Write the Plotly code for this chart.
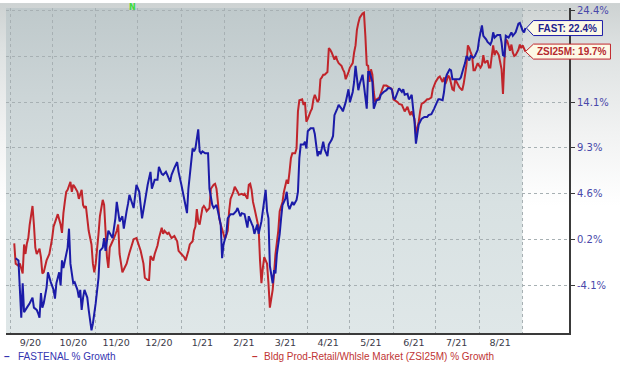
import base64
import math
from datetime import datetime
import plotly.graph_objects as go

# ---------------- data ----------------
fast_dates = [
    "2020-09-05", "2020-09-07", "2020-09-09", "2020-09-10", "2020-09-11", "2020-09-13", "2020-09-15", "2020-09-17",
    "2020-09-18", "2020-09-20", "2020-09-21", "2020-09-22", "2020-09-23", "2020-09-24", "2020-09-25", "2020-09-27",
    "2020-09-28", "2020-09-30", "2020-10-02", "2020-10-03", "2020-10-04", "2020-10-06", "2020-10-07", "2020-10-08",
    "2020-10-09", "2020-10-12", "2020-10-13", "2020-10-14", "2020-10-16", "2020-10-17", "2020-10-19", "2020-10-20",
    "2020-10-21", "2020-10-22", "2020-10-23", "2020-10-24", "2020-10-26", "2020-10-27", "2020-10-29", "2020-10-30",
    "2020-11-01", "2020-11-03", "2020-11-04", "2020-11-06", "2020-11-07", "2020-11-08", "2020-11-10", "2020-11-13",
    "2020-11-15", "2020-11-16", "2020-11-18", "2020-11-20", "2020-11-21", "2020-11-23", "2020-11-24", "2020-11-25",
    "2020-11-28", "2020-11-30", "2020-12-02", "2020-12-04", "2020-12-06", "2020-12-08", "2020-12-10", "2020-12-11",
    "2020-12-13", "2020-12-15", "2020-12-16", "2020-12-18", "2020-12-19", "2020-12-21", "2020-12-22", "2020-12-24",
    "2020-12-25", "2020-12-27", "2020-12-29", "2020-12-30", "2021-01-01", "2021-01-02", "2021-01-05", "2021-01-06",
    "2021-01-09", "2021-01-10", "2021-01-11", "2021-01-13", "2021-01-14", "2021-01-15", "2021-01-16", "2021-01-18",
    "2021-01-20", "2021-01-21", "2021-01-23", "2021-01-24", "2021-01-26", "2021-01-27", "2021-01-29", "2021-01-30",
    "2021-01-31", "2021-02-02", "2021-02-03", "2021-02-05", "2021-02-07", "2021-02-09", "2021-02-10", "2021-02-12",
    "2021-02-13", "2021-02-15", "2021-02-17", "2021-02-18", "2021-02-20", "2021-02-21", "2021-02-22", "2021-02-24",
    "2021-02-25", "2021-02-27", "2021-03-02", "2021-03-03", "2021-03-04", "2021-03-05", "2021-03-07", "2021-03-08",
    "2021-03-09", "2021-03-10", "2021-03-12", "2021-03-13", "2021-03-14", "2021-03-16", "2021-03-17", "2021-03-18",
    "2021-03-19", "2021-03-21", "2021-03-22", "2021-03-24", "2021-03-25", "2021-03-26", "2021-03-27", "2021-03-29",
    "2021-03-30", "2021-03-31", "2021-04-01", "2021-04-03", "2021-04-05", "2021-04-06", "2021-04-08", "2021-04-09",
    "2021-04-10", "2021-04-11", "2021-04-12", "2021-04-13", "2021-04-15", "2021-04-16", "2021-04-18", "2021-04-19",
    "2021-04-20", "2021-04-22", "2021-04-23", "2021-04-25", "2021-04-26", "2021-04-28", "2021-04-30", "2021-05-01",
    "2021-05-03", "2021-05-04", "2021-05-05", "2021-05-07", "2021-05-08", "2021-05-10", "2021-05-11", "2021-05-13",
    "2021-05-14", "2021-05-15", "2021-05-17", "2021-05-18", "2021-05-20", "2021-05-22", "2021-05-23", "2021-05-25",
    "2021-05-27", "2021-05-28", "2021-05-30", "2021-05-31", "2021-06-01", "2021-06-02", "2021-06-04", "2021-06-05",
    "2021-06-06", "2021-06-07", "2021-06-08", "2021-06-09", "2021-06-11", "2021-06-12", "2021-06-13", "2021-06-14",
    "2021-06-15", "2021-06-16", "2021-06-17", "2021-06-18", "2021-06-19", "2021-06-21", "2021-06-23", "2021-06-25",
    "2021-06-26", "2021-06-28", "2021-06-30", "2021-07-02", "2021-07-03", "2021-07-04", "2021-07-06", "2021-07-07",
    "2021-07-08", "2021-07-09", "2021-07-11", "2021-07-12", "2021-07-13", "2021-07-16", "2021-07-18", "2021-07-19",
    "2021-07-21", "2021-07-22", "2021-07-23", "2021-07-24", "2021-07-25", "2021-07-26", "2021-07-28", "2021-07-29",
    "2021-07-31", "2021-08-01", "2021-08-02", "2021-08-03", "2021-08-04", "2021-08-05", "2021-08-06", "2021-08-07",
    "2021-08-09", "2021-08-10", "2021-08-11", "2021-08-12", "2021-08-14", "2021-08-16", "2021-08-17", "2021-08-18",
    "2021-08-19", "2021-08-20", "2021-08-22", "2021-08-23", "2021-08-24", "2021-08-25", "2021-08-27", "2021-08-28",
    "2021-08-29", "2021-08-30", "2021-09-01", "2021-09-02", "2021-09-03",
]
fast_growth = [
    -1.6, -1.8, -7.0, -3.9, -6.5, -6.1, -5.7, -5.2,
    -6.1, -6.3, -6.6, -7.0, -4.8, -6.1, -5.7, -4.3,
    -2.9, -3.8, -4.5, -5.3, -3.9, -2.9, -4.1, -1.8,
    -2.5, -0.6, 1.2, -2.1, -3.9, -3.8, -4.5, -5.2,
    -4.5, -6.3, -5.2, -4.5, -5.2, -6.3, -8.1, -7.5,
    -5.7, -3.4, -0.9, -0.6, 0.3, -0.9, 1.0, 0.3,
    2.2, 3.8, 1.9, 2.4, 1.2, 2.9, 3.6, 4.5,
    3.2, 5.5, 4.8, 2.2, 3.8, 5.5, 6.8, 5.1,
    6.0, 6.0, 7.3, 6.6, 6.5, 6.8, 6.5, 5.8,
    6.5, 7.2, 7.8, 6.8, 5.5, 4.8, 2.7, 5.1,
    9.2, 8.9, 9.2, 11.2, 8.9, 8.7, 8.9, 8.7,
    8.7, 5.1, 3.5, 3.2, 3.5, 2.9, 1.6, -1.6,
    -0.3, 0.7, 2.2, 2.6, 2.6, 2.9, 3.2, 2.4,
    2.7, 2.6, 1.3, 2.4, 1.7, 1.4, 0.7, 1.6,
    0.7, 1.9, 5.0, 2.9, 2.2, -2.3, -3.9, -2.7,
    -3.0, -1.2, 0.7, 2.2, 3.5, 4.1, 4.8, 3.5,
    3.1, 3.8, 3.5, 4.0, 4.8, 8.2, 9.6, 9.6,
    9.9, 9.2, 11.0, 11.3, 11.3, 10.7, 8.4, 8.9,
    8.6, 9.2, 9.9, 9.1, 8.4, 9.6, 10.1, 10.5,
    12.7, 13.4, 13.8, 13.4, 13.1, 14.1, 15.5, 14.1,
    15.2, 16.3, 18.1, 15.4, 16.1, 17.1, 15.9, 13.4,
    17.4, 17.4, 16.3, 13.4, 14.3, 14.4, 14.9, 15.2,
    15.4, 15.6, 15.6, 15.4, 14.6, 14.4, 15.2, 15.6,
    15.4, 15.2, 15.5, 14.9, 15.0, 14.4, 14.6, 14.9,
    13.4, 12.0, 9.7, 10.7, 11.7, 12.3, 12.5, 12.5,
    12.7, 12.8, 13.4, 14.1, 14.4, 14.4, 14.3, 15.2,
    16.6, 17.1, 17.7, 17.6, 16.6, 16.6, 16.6, 16.8,
    17.9, 18.4, 19.2, 19.0, 18.7, 19.2, 19.0, 19.2,
    19.9, 21.1, 21.9, 22.7, 21.5, 21.3, 21.1, 20.8,
    20.5, 20.9, 21.9, 21.3, 21.6, 21.6, 20.7, 19.3,
    19.2, 21.5, 21.3, 21.6, 21.9, 21.5, 21.9, 22.4,
    22.9, 23.0, 22.1, 21.9, 22.4,
]

zsi_dates = [
    "2020-09-04", "2020-09-05", "2020-09-07", "2020-09-08", "2020-09-10", "2020-09-11", "2020-09-12", "2020-09-13",
    "2020-09-14", "2020-09-15", "2020-09-17", "2020-09-18", "2020-09-19", "2020-09-20", "2020-09-22", "2020-09-23",
    "2020-09-24", "2020-09-25", "2020-09-27", "2020-09-29", "2020-10-01", "2020-10-02", "2020-10-04", "2020-10-05",
    "2020-10-07", "2020-10-08", "2020-10-09", "2020-10-10", "2020-10-11", "2020-10-12", "2020-10-14", "2020-10-15",
    "2020-10-16", "2020-10-17", "2020-10-19", "2020-10-20", "2020-10-22", "2020-10-23", "2020-10-24", "2020-10-25",
    "2020-10-26", "2020-10-27", "2020-10-29", "2020-10-30", "2020-10-31", "2020-11-01", "2020-11-03", "2020-11-04",
    "2020-11-06", "2020-11-07", "2020-11-08", "2020-11-09", "2020-11-10", "2020-11-11", "2020-11-13", "2020-11-14",
    "2020-11-16", "2020-11-17", "2020-11-18", "2020-11-20", "2020-11-23", "2020-11-25", "2020-11-28", "2020-11-30",
    "2020-12-03", "2020-12-05", "2020-12-06", "2020-12-08", "2020-12-09", "2020-12-10", "2020-12-12", "2020-12-13",
    "2020-12-15", "2020-12-16", "2020-12-18", "2020-12-19", "2020-12-20", "2020-12-22", "2020-12-23", "2020-12-25",
    "2020-12-27", "2020-12-29", "2020-12-30", "2021-01-01", "2021-01-03", "2021-01-04", "2021-01-06", "2021-01-07",
    "2021-01-09", "2021-01-10", "2021-01-11", "2021-01-12", "2021-01-13", "2021-01-14", "2021-01-16", "2021-01-17",
    "2021-01-18", "2021-01-19", "2021-01-21", "2021-01-22", "2021-01-24", "2021-01-25", "2021-01-26", "2021-01-27",
    "2021-01-28", "2021-01-29", "2021-01-31", "2021-02-01", "2021-02-03", "2021-02-04", "2021-02-05", "2021-02-07",
    "2021-02-08", "2021-02-10", "2021-02-11", "2021-02-13", "2021-02-14", "2021-02-15", "2021-02-17", "2021-02-18",
    "2021-02-19", "2021-02-20", "2021-02-21", "2021-02-22", "2021-02-25", "2021-02-26", "2021-02-27", "2021-02-28",
    "2021-03-01", "2021-03-03", "2021-03-04", "2021-03-05", "2021-03-07", "2021-03-08", "2021-03-09", "2021-03-11",
    "2021-03-12", "2021-03-14", "2021-03-15", "2021-03-17", "2021-03-18", "2021-03-19", "2021-03-20", "2021-03-21",
    "2021-03-23", "2021-03-24", "2021-03-25", "2021-03-26", "2021-03-28", "2021-03-29", "2021-03-30", "2021-03-31",
    "2021-04-01", "2021-04-03", "2021-04-04", "2021-04-05", "2021-04-06", "2021-04-08", "2021-04-09", "2021-04-10",
    "2021-04-11", "2021-04-12", "2021-04-13", "2021-04-15", "2021-04-16", "2021-04-17", "2021-04-18", "2021-04-20",
    "2021-04-21", "2021-04-22", "2021-04-23", "2021-04-25", "2021-04-26", "2021-04-27", "2021-04-28", "2021-04-30",
    "2021-05-01", "2021-05-03", "2021-05-04", "2021-05-05", "2021-05-06", "2021-05-07", "2021-05-08", "2021-05-10",
    "2021-05-11", "2021-05-12", "2021-05-13", "2021-05-14", "2021-05-15", "2021-05-16", "2021-05-17", "2021-05-18",
    "2021-05-19", "2021-05-20", "2021-05-22", "2021-05-24", "2021-05-25", "2021-05-27", "2021-05-29", "2021-05-31",
    "2021-06-01", "2021-06-04", "2021-06-05", "2021-06-07", "2021-06-09", "2021-06-11", "2021-06-12", "2021-06-13",
    "2021-06-14", "2021-06-16", "2021-06-17", "2021-06-19", "2021-06-20", "2021-06-21", "2021-06-23", "2021-06-25",
    "2021-06-26", "2021-06-28", "2021-06-29", "2021-07-01", "2021-07-03", "2021-07-04", "2021-07-06", "2021-07-07",
    "2021-07-08", "2021-07-09", "2021-07-10", "2021-07-11", "2021-07-13", "2021-07-14", "2021-07-15", "2021-07-16",
    "2021-07-18", "2021-07-20", "2021-07-21", "2021-07-22", "2021-07-23", "2021-07-24", "2021-07-25", "2021-07-26",
    "2021-07-27", "2021-07-28", "2021-07-29", "2021-07-31", "2021-08-01", "2021-08-02", "2021-08-03", "2021-08-04",
    "2021-08-05", "2021-08-07", "2021-08-08", "2021-08-09", "2021-08-10", "2021-08-11", "2021-08-12", "2021-08-13",
    "2021-08-14", "2021-08-15", "2021-08-17", "2021-08-18", "2021-08-19", "2021-08-20", "2021-08-21", "2021-08-22",
    "2021-08-23", "2021-08-24", "2021-08-25", "2021-08-26", "2021-08-27", "2021-08-29", "2021-08-30", "2021-08-31",
    "2021-09-01", "2021-09-03",
]
zsi_growth = [
    -0.2, -2.1, -2.3, -2.1, -3.0, -0.3, -1.2, -0.2,
    0.3, 1.6, 3.4, 1.6, -0.6, -1.2, -0.7, -1.5,
    -3.0, -2.9, -1.8, -1.2, 0.3, 1.4, 2.2, 2.6,
    1.6, 0.8, 2.7, 3.8, 4.8, 5.0, 5.8, 4.8,
    5.5, 5.3, 4.8, 4.1, 5.0, 3.5, 3.2, 3.4,
    2.2, 1.0, -0.3, -2.1, -2.9, -2.1, 0.7, 2.4,
    4.0, 3.5, 1.0, -1.5, -2.5, -0.6, 0.0, 0.3,
    1.0, 1.6, -1.2, -2.9, -2.1, -1.1, 0.2, 0.3,
    -0.9, -2.1, -3.4, -3.6, -3.6, -1.4, -1.8, -1.2,
    -0.4, 0.3, 1.3, 0.7, 1.0, 0.7, 0.8, 0.3,
    0.5, 0.0, -0.9, -1.2, -1.5, -1.8, -0.9, -0.3,
    0.0, 1.0, 1.4, 3.1, 1.9, 1.6, 3.2, 3.4,
    3.2, 2.9, 3.2, 5.1, 5.5, 5.6, 5.1, 3.8,
    2.2, 1.6, 0.7, 0.2, 1.0, 2.9, 4.1, 4.8,
    5.3, 4.8, 4.5, 4.6, 4.5, 4.6, 4.1, 5.5,
    5.6, 5.0, 3.8, 3.2, 1.3, -1.8, -3.9, -2.5,
    -1.5, -2.1, -3.9, -6.1, -4.5, -3.0, -1.2, 1.0,
    2.9, 3.8, 4.8, 6.0, 5.6, 6.8, 8.2, 8.7,
    8.7, 9.2, 13.1, 14.3, 14.4, 13.8, 14.1, 12.0,
    12.3, 13.1, 13.4, 14.4, 14.9, 14.1, 14.4, 16.6,
    16.8, 17.1, 17.1, 17.4, 20.1, 19.9, 19.6, 18.8,
    19.2, 18.7, 18.4, 18.1, 17.7, 17.4, 16.6, 17.4,
    17.9, 18.4, 19.6, 20.4, 22.2, 23.0, 23.6, 24.1,
    24.2, 21.5, 18.2, 18.1, 16.3, 17.7, 17.1, 15.2,
    14.1, 14.4, 14.6, 15.5, 15.9, 15.9, 15.7, 15.5,
    14.4, 14.1, 13.9, 13.8, 13.1, 13.6, 13.1, 12.7,
    13.1, 12.3, 10.7, 12.0, 13.1, 13.9, 14.1, 14.4,
    14.4, 14.6, 15.5, 16.3, 16.8, 16.9, 16.3, 16.8,
    16.1, 16.5, 17.0, 16.8, 15.5, 15.4, 16.6, 16.3,
    15.7, 15.4, 16.1, 17.1, 18.2, 20.4, 20.1, 19.6,
    19.2, 17.6, 17.6, 18.4, 18.1, 17.9, 18.2, 19.3,
    18.4, 18.7, 17.9, 17.9, 19.2, 20.4, 19.3, 19.8,
    19.6, 19.3, 17.7, 15.0, 18.7, 21.1, 20.9, 20.4,
    19.8, 20.5, 19.6, 19.2, 19.3, 19.9, 20.5, 20.1,
    20.4, 19.7,
]

month_starts = ["2020-09-01", "2020-10-01", "2020-11-01", "2020-12-01", "2021-01-01", "2021-02-01",
                "2021-03-01", "2021-04-01", "2021-05-01", "2021-06-01", "2021-07-01", "2021-08-01",
                "2021-09-01"]
month_mids = ["2020-09-15 12:00", "2020-10-16", "2020-11-15 12:00", "2020-12-16", "2021-01-16",
              "2021-02-14 12:00", "2021-03-16", "2021-04-15 12:00", "2021-05-16", "2021-06-15 12:00",
              "2021-07-16", "2021-08-16"]
month_labels = ["9/20", "10/20", "11/20", "12/20", "1/21", "2/21", "3/21", "4/21", "5/21", "6/21",
                "7/21", "8/21"]
y_tick_growth = [-4.1, 0.2, 4.6, 9.3, 14.1, 19.1, 24.4]
y_tick_text = ["-4.1%", "0.2%", "4.6%", "9.3%", "14.1%", "", "24.4%"]

fast_name = "FASTENAL % Growth"
zsi_name = "Bldg Prod-Retail/Whlsle Market (ZSI25M) % Growth"

# ---------------- styling ----------------
BLUE = "#1b1ba8"
RED = "#c0252b"
X_RANGE = ["2020-08-29 03:00", "2021-10-04 00:00"]
Y_RANGE = [math.log10(91.67), math.log10(124.75)]
W, H = 620, 372
ML, MR, MT, MB = 6, 51, 5, 39
PW, PH = W - ML - MR, H - MT - MB


def to_dt(s):
    return datetime.fromisoformat(s)


def x_frac(s):
    a, b = to_dt(X_RANGE[0]), to_dt(X_RANGE[1])
    return (to_dt(s) - a).total_seconds() / (b - a).total_seconds()


def y_frac(g):
    return (math.log10(100 + g) - Y_RANGE[0]) / (Y_RANGE[1] - Y_RANGE[0])


def gradient_uri(stops):
    st = "".join('<stop offset="%s" stop-color="%s"/>' % (o, c) for o, c in stops)
    svg = ('<svg xmlns="http://www.w3.org/2000/svg" width="100" height="100" viewBox="0 0 100 100" '
           'preserveAspectRatio="none"><defs><linearGradient id="g" x1="0" y1="0" x2="0" y2="1">'
           + st + '</linearGradient></defs><rect width="100" height="100" fill="url(#g)"/></svg>')
    return "data:image/svg+xml;base64," + base64.b64encode(svg.encode()).decode()


fig = go.Figure()
fig.add_trace(go.Scatter(x=zsi_dates, y=[100 + v for v in zsi_growth], mode="lines", name=zsi_name,
                         line=dict(color=RED, width=2, simplify=False), showlegend=False))
fig.add_trace(go.Scatter(x=fast_dates, y=[100 + v for v in fast_growth], mode="lines", name=fast_name,
                         line=dict(color=BLUE, width=2, simplify=False), showlegend=False))

images = [
    dict(source=gradient_uri([(0, "#cdd2d2"), (0.12, "#dde1e1"), (0.35, "#f1f2f2"), (0.55, "#ffffff"),
                              (1, "#ffffff")]),
         xref="paper", yref="paper", x=-ML / PW, y=1 + MT / PH, sizex=W / PW, sizey=H / PH,
         xanchor="left", yanchor="top", sizing="stretch", layer="below"),
    dict(source=gradient_uri([(0, "#bfc9cb"), (0.3, "#cdd6d8"), (0.6, "#d8e1e2"), (1, "#dfe7e8")]),
         xref="paper", yref="paper", x=0, y=1, sizex=x_frac(month_starts[-1]), sizey=1,
         xanchor="left", yanchor="top", sizing="stretch", layer="below"),
]

shapes = []
annotations = []
tags = [
    (fast_dates[-1], fast_growth[-1], "FAST", BLUE, "#22228e", 1, 77),
    (zsi_dates[-1], zsi_growth[-1], "ZSI25M", RED, "#b52a2e", 0, 85),
]
for d, v, lab, col, tcol, tip, right in tags:
    xf, yf = x_frac(d), y_frac(v)
    shapes.append(dict(type="path", xref="paper", yref="paper", xsizemode="pixel", ysizemode="pixel",
                       xanchor=xf, yanchor=yf,
                       path="M %d 0 L 8 7.5 L %d 7.5 L %d -7.5 L 8 -7.5 Z" % (tip, right, right),
                       fillcolor="#fdf9e6", line=dict(color=col, width=1), layer="above"))
    annotations.append(dict(xref="paper", yref="paper", x=xf, y=yf, xshift=(8 + right) / 2,
                            text="<b>%s: %.1f%%</b>" % (lab, v), showarrow=False, xanchor="center",
                            yanchor="middle", font=dict(family="Liberation Sans", size=10, color=tcol)))

legend_y = -24 / PH
annotations += [
    dict(xref="paper", yref="paper", x=0, xshift=-4, y=legend_y, text="<b>–</b>", showarrow=False,
         xanchor="left", yanchor="middle", font=dict(family="Liberation Sans", size=10, color="#3434b0")),
    dict(xref="paper", yref="paper", x=0, xshift=10, y=legend_y, text=fast_name, showarrow=False,
         xanchor="left", yanchor="middle", font=dict(family="Liberation Sans", size=10, color="#3434b0")),
    dict(xref="paper", yref="paper", x=244 / PW, y=legend_y, text="<b>–</b>", showarrow=False,
         xanchor="left", yanchor="middle", font=dict(family="Liberation Sans", size=10, color="#c03434")),
    dict(xref="paper", yref="paper", x=256 / PW, y=legend_y, text=zsi_name, showarrow=False,
         xanchor="left", yanchor="middle", font=dict(family="Liberation Sans", size=10, color="#c03434")),
    dict(xref="paper", yref="paper", x=x_frac("2020-11-27"), y=1 + 0.5 / PH, text="<b>N</b>",
         showarrow=False, xanchor="center", yanchor="middle",
         font=dict(family="DejaVu Sans", size=8, color="#3ddc3d")),
]

fig.update_layout(
    width=W, height=H, margin=dict(l=ML, r=MR, t=MT, b=MB, pad=0),
    paper_bgcolor="#ffffff", plot_bgcolor="rgba(0,0,0,0)",
    font=dict(family="DejaVu Sans", size=10),
    images=images, shapes=shapes, annotations=annotations,
    hovermode=False,
    xaxis=dict(type="date", range=X_RANGE, tickmode="array", tickvals=month_mids, ticktext=month_labels,
               ticks="", showgrid=False, showline=True, linecolor="#3a3a3a", linewidth=2,
               tickfont=dict(family="DejaVu Sans", size=9.5, color="#3a3a48"), zeroline=False,
               minor=dict(tickmode="array", tickvals=month_starts, showgrid=True, gridcolor="#a7b0b3",
                          griddash="dot", gridwidth=1, ticks="")),
    yaxis=dict(type="log", range=Y_RANGE, side="right", tickmode="array",
               tickvals=[100 + v for v in y_tick_growth], ticktext=y_tick_text,
               ticks="outside", ticklen=4, tickwidth=1, tickcolor="#3a3a3a",
               showgrid=True, gridcolor="#a7b0b3", griddash="dot", gridwidth=1,
               showline=True, linecolor="#3a3a3a", linewidth=2, zeroline=False,
               tickfont=dict(family="DejaVu Sans", size=10, color="#4848aa")),
)

fig.write_html("out.html")
